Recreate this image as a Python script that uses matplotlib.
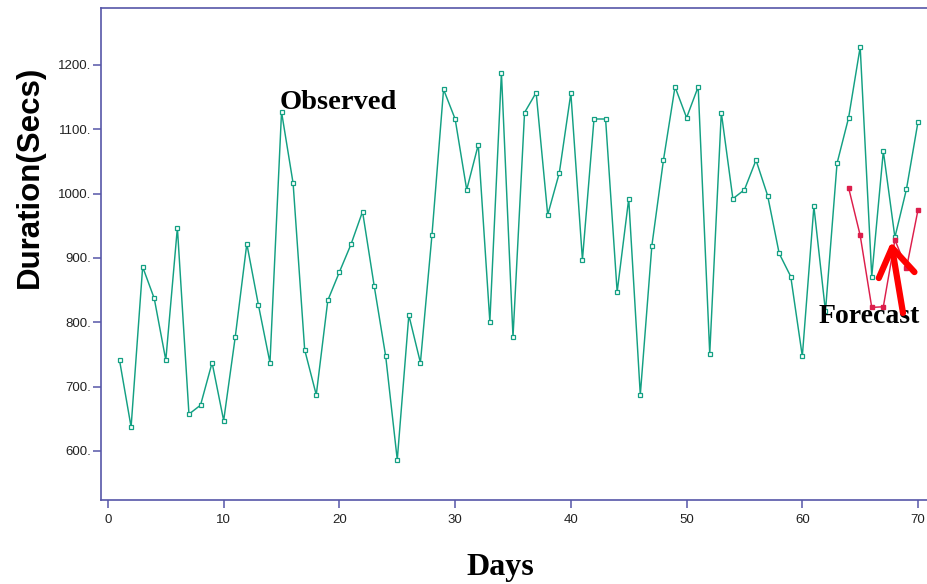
import matplotlib
matplotlib.use("Agg")
import matplotlib.pyplot as plt

# ---- data ----
obs_days = list(range(1, 71))
obs_vals = [741, 637, 886, 837, 741, 947, 657, 671, 737, 647,
            777, 922, 827, 737, 1127, 1016, 757, 687, 834, 878,
            921, 972, 857, 747, 586, 811, 737, 936, 1162, 1116,
            1006, 1076, 801, 1188, 777, 1126, 1157, 967, 1032, 1156,
            897, 1116, 1116, 847, 992, 687, 919, 1052, 1166, 1118,
            1166, 751, 1126, 992, 1006, 1052, 997, 907, 871, 747,
            980, 817, 1047, 1118, 1228, 871, 1066, 932, 1007, 1112]
fc_days = [64, 65, 66, 67, 68, 69, 70]
fc_vals = [1009, 935, 823, 824, 928, 884, 975]
x_ticks = [0, 10, 20, 30, 40, 50, 60, 70]
y_ticks = [600, 700, 800, 900, 1000, 1100, 1200]
y_tick_labels = ["600.", "700.", "800.", "900.", "1000.", "1100.", "1200."]

GREEN = "#13a083"
RED = "#dc1e4b"
AXC = "#5656a8"

fig = plt.figure(figsize=(9.28, 5.84), dpi=100)
ax = fig.add_axes([101/928, 1-500/584, 1-101/928, (500-8)/584])

ax.plot(obs_days, obs_vals, color=GREEN, lw=1.05, marker="s", ms=3.1,
        mfc="white", mec=GREEN, mew=0.9, zorder=3)
ax.plot(fc_days, fc_vals, color=RED, lw=1.05, marker="s", ms=3.1,
        mfc=RED, mec=RED, zorder=3)

ax.set_xlim(-0.6, 70.86)
ax.set_ylim(523.5, 1288.6)
ax.set_xticks(x_ticks)
ax.set_xticklabels([str(t) for t in x_ticks])
ax.set_yticks(y_ticks)
ax.set_yticklabels(y_tick_labels)

for s in ["left", "bottom", "top"]:
    ax.spines[s].set_color(AXC)
    ax.spines[s].set_linewidth(1.2)
ax.spines["right"].set_visible(False)
ax.tick_params(axis="both", colors=AXC, length=6, width=1.1,
               labelcolor="#222222", labelsize=9.5)
for lab in ax.get_xticklabels() + ax.get_yticklabels():
    lab.set_family("Liberation Sans")
ax.tick_params(axis="y", pad=1)
ax.tick_params(axis="x", pad=4)

ax.text(14.86, 1131.6, "Observed", family="Liberation Serif",
        fontweight="bold", fontsize=20.5, ha="left", va="baseline", zorder=5)
ax.text(61.36, 799, "Forecast", family="Liberation Serif",
        fontweight="bold", fontsize=20, ha="left", va="baseline", zorder=5)

ax.annotate("", xy=(67.67, 924.7), xytext=(68.7, 814.3),
            arrowprops=dict(arrowstyle="->,head_length=1.0,head_width=0.65",
                            color="#ff0000", lw=4.5, mutation_scale=20,
                            shrinkA=0, shrinkB=0),
            zorder=6)

fig.text(500/928, 1-568/584, "Days", family="Liberation Serif",
         fontweight="bold", fontsize=23, ha="center", va="center")
fig.text(30/928, 1-177/584, "Duration(Secs)", family="Liberation Sans",
         fontweight="bold", fontsize=22.5, rotation=90, ha="center", va="center")

fig.savefig("out.png", dpi=100)
